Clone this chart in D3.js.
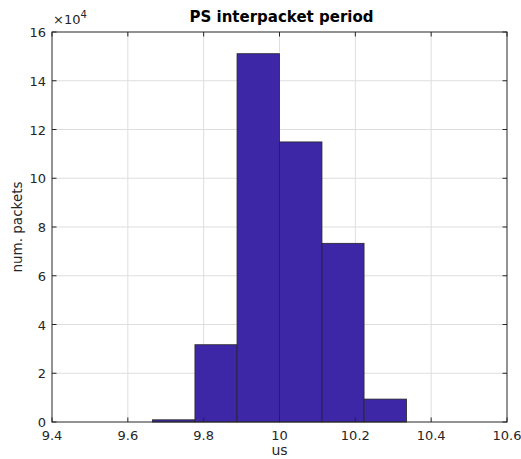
<!DOCTYPE html>
<html><head><meta charset="utf-8">
<script src="https://cdn.jsdelivr.net/npm/d3@7"></script>
<style>body{margin:0;background:#fff}svg{display:block}text{font-family:"DejaVu Sans",sans-serif}</style>
</head><body>
<script>
const binEdges = [9.665, 9.777, 9.888, 10.0, 10.112, 10.223, 10.335];
const counts = [900, 31700, 151100, 114900, 73300, 9400];
const xTicks = [9.4, 9.6, 9.8, 10, 10.2, 10.4, 10.6];
const yTicks = [0, 2, 4, 6, 8, 10, 12, 14, 16];

const W = 521, H = 459;
const m = {l: 52, r: 14, t: 32, b: 37};
const svg = d3.select("body").append("svg").attr("width", W).attr("height", H);
const x = d3.scaleLinear().domain([9.4, 10.6]).range([m.l, W - m.r]);
const y = d3.scaleLinear().domain([0, 16]).range([H - m.b, m.t]);
const x0 = m.l, x1 = W - m.r, y0 = H - m.b, y1 = m.t;

// grid
const g = svg.append("g");
g.selectAll(".gx").data(xTicks.slice(1, -1)).join("line")
  .attr("x1", d => x(d)).attr("x2", d => x(d)).attr("y1", y0).attr("y2", y1)
  .attr("stroke", "#dedede").attr("stroke-width", 1);
g.selectAll(".gy").data(yTicks.slice(1, -1)).join("line")
  .attr("y1", d => y(d)).attr("y2", d => y(d)).attr("x1", x0).attr("x2", x1)
  .attr("stroke", "#dedede").attr("stroke-width", 1);

// bars
const bins = counts.map((c, i) => ({a: binEdges[i], b: binEdges[i + 1], c}));
svg.selectAll(".bar").data(bins).join("rect")
  .attr("x", d => x(d.a)).attr("width", d => x(d.b) - x(d.a))
  .attr("y", d => y(d.c / 1e4)).attr("height", d => y(0) - y(d.c / 1e4))
  .attr("fill", "#3d27a7").attr("stroke", "#262626").attr("stroke-width", 0.8);

// axes box
svg.append("rect").attr("x", x0).attr("y", y1).attr("width", x1 - x0).attr("height", y0 - y1)
  .attr("fill", "none").attr("stroke", "#262626").attr("stroke-width", 1);

// ticks inside
const tl = 4.5;
const tk = svg.append("g").attr("stroke", "#262626").attr("stroke-width", 1);
xTicks.forEach(d => {
  tk.append("line").attr("x1", x(d)).attr("x2", x(d)).attr("y1", y0).attr("y2", y0 - tl);
  tk.append("line").attr("x1", x(d)).attr("x2", x(d)).attr("y1", y1).attr("y2", y1 + tl);
});
yTicks.forEach(d => {
  tk.append("line").attr("y1", y(d)).attr("y2", y(d)).attr("x1", x0).attr("x2", x0 + tl);
  tk.append("line").attr("y1", y(d)).attr("y2", y(d)).attr("x1", x1).attr("x2", x1 - tl);
});

// tick labels
svg.selectAll(".xl").data(xTicks).join("text")
  .attr("x", d => x(d)).attr("y", y0 + 18).attr("text-anchor", "middle")
  .attr("font-size", 13).attr("fill", "#262626").text(d => d);
svg.selectAll(".yl").data(yTicks).join("text")
  .attr("x", x0 - 6).attr("y", d => y(d) + 5).attr("text-anchor", "end")
  .attr("font-size", 13).attr("fill", "#262626").text(d => d);

// exponent
const ex = svg.append("text").attr("x", x0 + 1).attr("y", 24).attr("font-size", 13).attr("fill", "#262626");
ex.append("tspan").text("\u00d710");
ex.append("tspan").attr("dy", -6).attr("font-size", 10).text("4");

// title
svg.append("text").attr("x", (x0 + x1) / 2 + 2).attr("y", 22).attr("text-anchor", "middle")
  .attr("font-size", 15).attr("font-weight", "bold").attr("fill", "#000").text("PS interpacket period");
// axis labels
svg.append("text").attr("x", (x0 + x1) / 2).attr("y", H - 4).attr("text-anchor", "middle")
  .attr("font-size", 14).attr("fill", "#262626").text("us");
svg.append("text").attr("transform", `translate(22,${(y0 + y1) / 2}) rotate(-90)`).attr("text-anchor", "middle")
  .attr("font-size", 13.5).attr("fill", "#262626").text("num. packets");
</script>
</body></html>
